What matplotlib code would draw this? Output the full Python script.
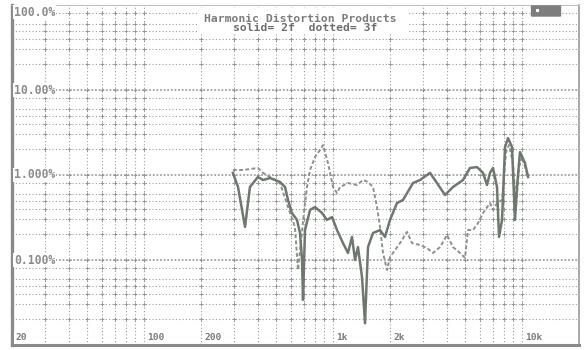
import matplotlib
matplotlib.use("Agg")
import matplotlib.pyplot as plt
from matplotlib.patches import Rectangle, FancyBboxPatch
import numpy as np

# Second-harmonic distortion (solid), frequency in Hz and level in %
f2_hz = [295, 314, 342, 363, 400, 426, 464, 524, 557, 577, 606, 644, 668, 685,
         693, 710, 755, 802, 874, 928, 987, 1049, 1128, 1199, 1259, 1306, 1354,
         1422, 1475, 1530, 1626, 1771, 1882, 2000, 2178, 2343, 2647, 2883, 3256,
         3545, 3908, 4308, 4868, 5302, 5772, 6211, 6521, 6764, 7015, 7366, 7547,
         7831, 8120, 8423, 8843, 9171, 9397, 9745, 10360, 10750]
h2_pct = [1.06, 0.722, 0.245, 0.722, 0.947, 0.873, 0.922, 0.827, 0.722, 0.508,
          0.357, 0.296, 0.208, 0.100, 0.034, 0.225, 0.388, 0.42, 0.357, 0.296,
          0.32, 0.225, 0.158, 0.121, 0.187, 0.100, 0.142, 0.063, 0.018, 0.142,
          0.208, 0.225, 0.187, 0.296, 0.468, 0.508, 0.805, 0.873, 1.06, 0.805,
          0.582, 0.722, 0.873, 1.21, 1.24, 1.06, 0.763, 1.06, 1.21, 0.722,
          0.187, 0.296, 2.13, 2.72, 2.13, 0.296, 0.722, 1.86, 1.38, 0.947]

# Third-harmonic distortion (dotted)
f3_hz = [295, 334, 400, 426, 524, 577, 628, 652, 710, 728, 755, 802, 853, 884,
         940, 999, 1049, 1088, 1199, 1338, 1440, 1530, 1626, 1707, 1771, 1836,
         1929, 2000, 2074, 2259, 2460, 2615, 2883, 3139, 3378, 3678, 4006, 4308,
         4694, 4988, 5173, 5498, 5845, 6211, 6764, 7015, 7366, 7831, 8220, 8524,
         8953, 9284, 9630, 9987, 10490, 10750]
h3_pct = [1.145, 1.145, 1.21, 1.06, 0.805, 0.42, 0.245, 0.0763, 0.468, 0.722,
          1.145, 1.63, 1.97, 2.25, 1.38, 0.722, 0.614, 0.722, 0.805, 0.763,
          0.873, 0.827, 0.722, 0.42, 0.245, 0.121, 0.0763, 0.108, 0.121, 0.158,
          0.214, 0.158, 0.150, 0.138, 0.121, 0.142, 0.197, 0.142, 0.121, 0.106,
          0.225, 0.225, 0.272, 0.357, 0.468, 0.388, 0.468, 0.508, 1.86, 2.25,
          1.38, 0.42, 1.24, 1.63, 1.14, 0.95]

y_tick_vals = [100, 10, 1, 0.1]
y_tick_text = ["100.0%", "10.00%", "1.000%", "0.100%"]
x_tick_vals = [20, 100, 200, 1000, 2000, 10000]
x_tick_text = ["20", "100", "200", "1k", "2k", "10k"]

title_text = "Harmonic Distortion Products"
subtitle_text = "solid= 2f  dotted= 3f"

W, H = 586, 350
fig = plt.figure(figsize=(W / 100, H / 100), dpi=100)
fig.patch.set_facecolor("white")
ax = fig.add_axes([12 / W, 5 / H, 567 / W, 340 / H])
ax.set_xscale("log")
ax.set_yscale("log")
ax.set_xlim(20, 20000)
ax.set_ylim(0.01, 100)

grid_col = "#9c9c9c"
# vertical grid: every 1..9 multiple
xs = [m * 10 ** d for d in range(1, 5) for m in range(1, 10)]
xs = [x for x in xs if 20 < x < 20000]
for x in xs:
    ax.axvline(x, color=grid_col, lw=0.8, ls=(0, (1, 2)), zorder=1)
# horizontal grid: 2,3,4,5,6,8 within each decade, decades drawn denser
ys_minor = [m * 10 ** d for d in range(-2, 2) for m in (2, 3, 4, 5, 6, 8)]
for y in ys_minor:
    ax.axhline(y, color=grid_col, lw=0.8, ls=(0, (1, 2)), zorder=1)
for y in [10, 1, 0.1]:
    ax.axhline(y, color="#a2a2a2", lw=1.3, ls=(0, (1, 1)), zorder=1)

# small crosses where grid lines meet
gx, gy = np.meshgrid(xs, ys_minor + [10, 1, 0.1])
ax.scatter(gx.ravel(), gy.ravel(), marker="+", s=9, lw=0.6, color="#929292", zorder=1)

# traces
ax.plot(f3_hz, h3_pct, color="#8a938b", lw=1.4, ls=(0, (2, 1.2)), zorder=3)
ax.plot(f2_hz, h2_pct, color="#6e786f", lw=1.8, zorder=4)

# spines
for s in ax.spines.values():
    s.set_color("#9a9a9a")
ax.spines["left"].set_linewidth(2.4)
ax.spines["left"].set_color("#8a8a8a")
ax.spines["bottom"].set_linewidth(2.2)
ax.spines["bottom"].set_color("#8a8a8a")
ax.spines["right"].set_linewidth(1.2)
ax.spines["top"].set_linewidth(0.8)
ax.spines["top"].set_color("#c0c0c0")
ax.set_xticks([])
ax.set_yticks([])
ax.minorticks_off()

mono = dict(family="DejaVu Sans Mono", fontweight="bold")
for v, t in zip(y_tick_vals, y_tick_text):
    top = v == max(y_tick_vals)
    ax.text(0.004, v * (0.985 if top else 1.0), t,
            transform=ax.get_yaxis_transform(), ha="left",
            va="top" if top else "center", fontsize=8.3, color="#8c8c8c",
            zorder=6, bbox=dict(boxstyle="square,pad=0.08", fc="white", ec="none"),
            **mono)
for v, t in zip(x_tick_vals, x_tick_text):
    ax.text(v * 1.04, 0.0122, t, transform=ax.transData, ha="left",
            va="center", fontsize=6.8, color="#7a7a7a", zorder=6,
            bbox=dict(boxstyle="square,pad=0.15", fc="white", ec="none"), **mono)

# title block
fig.patches.append(Rectangle((197 / W, 1 - 34 / H), 211 / W, 26 / H,
                             transform=fig.transFigure, fc="white", ec="none",
                             zorder=5))
fig.text(300 / W, 1 - 19 / H, title_text, ha="center", va="center",
         fontsize=8.2, color="#7c7c7c", zorder=7, **mono)
fig.text(305 / W, 1 - 28 / H, subtitle_text, ha="center", va="center",
         fontsize=8.2, color="#6e6e6e", zorder=7, **mono)

# badge in the top-right corner
fig.patches.append(FancyBboxPatch((532 / W, 1 - 16 / H), 28 / W, 10 / H,
                                  boxstyle="round,pad=0.002",
                                  transform=fig.transFigure, fc="#7d7d7d",
                                  ec="none", zorder=7))
fig.patches.append(Rectangle((536 / W, 1 - 12 / H), 3 / W, 3 / H,
                             transform=fig.transFigure, fc="white", ec="none",
                             zorder=8))

fig.savefig("out.png", dpi=100, facecolor="white")
